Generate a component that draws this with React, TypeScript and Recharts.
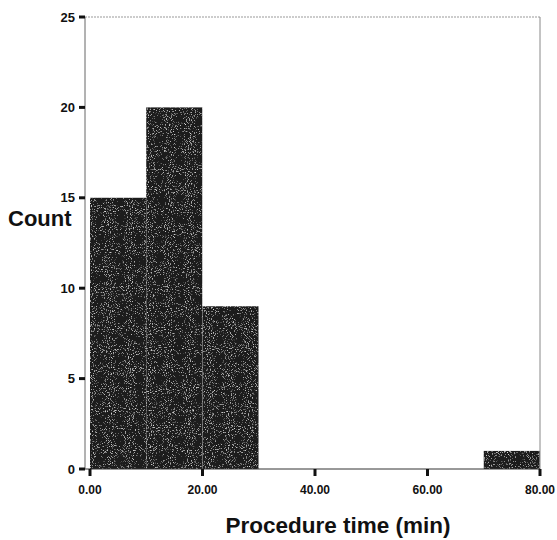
import React from "react";
import { Bar, BarChart, Label, ReferenceLine, XAxis, YAxis } from "recharts";

// Histogram bins (minutes) and how many procedures fell in each
const binStarts = [0, 10, 20, 30, 40, 50, 60, 70];
const binWidth = 10;
const counts = [15, 20, 9, 0, 0, 0, 0, 1];

const xTicks = [0, 20, 40, 60, 80];
const yTicks = [0, 5, 10, 15, 20, 25];

const FONT = "Arial, 'Liberation Sans', sans-serif";

const data = binStarts.map((start, i) => ({
  mid: start + binWidth / 2,
  count: counts[i],
}));

// grainy dark fill, like an old print
const GrainyBar = (props: any) => {
  const { x, y, width, height } = props;
  if (!height || height <= 0) return <g />;
  return <rect x={x} y={y} width={width} height={height} fill="#1c1c1c" filter="url(#grain)" />;
};

export default function App() {
  return (
    <div style={{ position: "absolute", left: 0, top: 0, background: "#fff" }}>
      <BarChart
        width={557}
        height={540}
        data={data}
        margin={{ top: 17, right: 17, left: 0, bottom: 0 }}
        barCategoryGap={0}
        barGap={0}
      >
        <defs>
          <filter id="grain" x="0" y="0" width="100%" height="100%">
            <feTurbulence type="fractalNoise" baseFrequency="0.95" numOctaves={2} seed={4} result="noise" />
            <feColorMatrix
              in="noise"
              type="matrix"
              values="0 0 0 0 0.75  0 0 0 0 0.75  0 0 0 0 0.75  3.5 0 0 0 -2.05"
              result="specks"
            />
            <feComposite in="specks" in2="SourceGraphic" operator="in" result="clipped" />
            <feMerge>
              <feMergeNode in="SourceGraphic" />
              <feMergeNode in="clipped" />
            </feMerge>
          </filter>
        </defs>
        <XAxis
          dataKey="mid"
          type="number"
          domain={[0, 80]}
          ticks={xTicks}
          padding={{ left: 5, right: 0 }}
          height={71}
          axisLine={{ stroke: "#333", strokeWidth: 1 }}
          tickLine={{ stroke: "#111", strokeWidth: 3 }}
          tickSize={7}
          tickMargin={9}
          tickFormatter={(v: number) => v.toFixed(2)}
          tick={{ fill: "#111", fontSize: 12, fontWeight: 700, fontFamily: FONT }}
        >
          <Label
            content={() => (
              <text x={338} y={533} textAnchor="middle" fill="#111" fontSize={22.5} fontWeight={700} fontFamily={FONT}>
                Procedure time (min)
              </text>
            )}
          />
        </XAxis>
        <YAxis
          type="number"
          domain={[0, 25]}
          ticks={yTicks}
          width={85}
          axisLine={{ stroke: "#666", strokeWidth: 1 }}
          tickLine={{ stroke: "#111", strokeWidth: 3 }}
          tickSize={6}
          tickMargin={4}
          tick={{ fill: "#111", fontSize: 13, fontWeight: 700, fontFamily: FONT }}
        >
          <Label
            content={() => (
              <text x={8} y={226} fill="#111" fontSize={22} fontWeight={700} fontFamily={FONT}>
                Count
              </text>
            )}
          />
        </YAxis>
        <ReferenceLine y={25} stroke="#999" strokeDasharray="2 1" />
        <ReferenceLine x={80} stroke="#888" />
        <Bar dataKey="count" fill="#1c1c1c" shape={GrainyBar} isAnimationActive={false} />
      </BarChart>
    </div>
  );
}
